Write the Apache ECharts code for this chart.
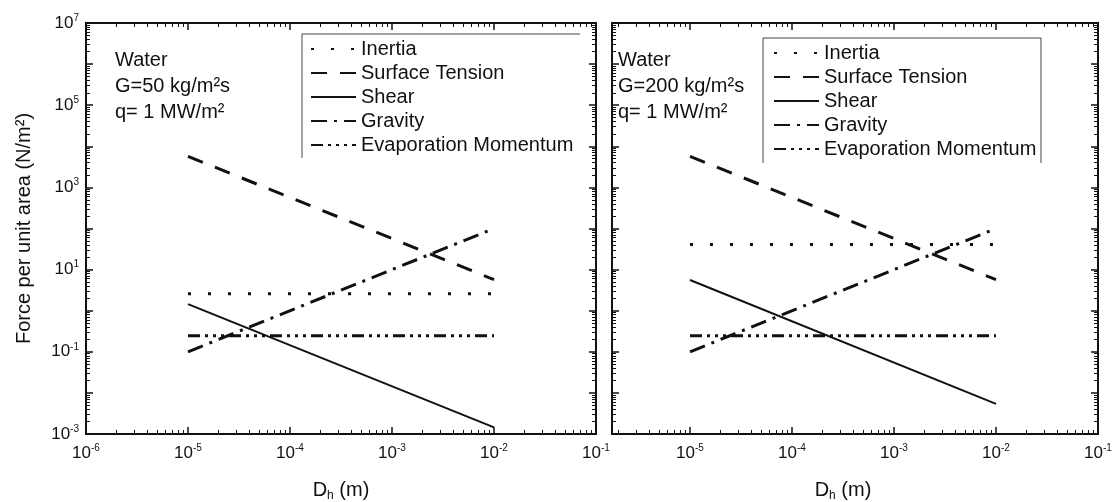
<!DOCTYPE html>
<html>
<head>
<meta charset="utf-8">
<script src="https://cdn.jsdelivr.net/npm/echarts@6/dist/echarts.min.js"></script>
<style>
  html, body { margin: 0; background: #fff; }
  #chart { width: 1113px; height: 502px; }
</style>
</head>
<body>
<div id="chart"></div>
<script>
// ========== 数据 ==========
const dh = [1e-5, 1e-2];                 // D_h (m), both ends of every line
const inertiaG50 = [2.6, 2.6];
const inertiaG200 = [41, 41];
const surfaceTension = [5700, 5.7];
const shearG50 = [1.45, 0.00145];
const shearG200 = [5.6, 0.0054];
const gravity = [0.1, 100];
const evapMomentum = [0.245, 0.245];
const seriesNames = ['Inertia', 'Surface Tension', 'Shear', 'Gravity', 'Evaporation Momentum'];
const xDecades = [-6, -5, -4, -3, -2, -1];        // exponents of the x tick labels
const yDecades = [-3, -2, -1, 0, 1, 2, 3, 4, 5, 6, 7];
const yLabelDecades = [-3, -1, 1, 3, 5, 7];

const FONT = '"Liberation Sans", Arial, sans-serif';
const INK = '#111';

// line styles per force
const lineStyles = {
  'Inertia': { type: [3, 17], width: 3 },
  'Surface Tension': { type: [16, 13], width: 3 },
  'Shear': { type: 'solid', width: 2 },
  'Gravity': { type: [16, 7, 3, 7], width: 3 },
  'Evaporation Momentum': { type: [12, 5, 3, 5, 3, 5, 3, 5], width: 3 }
};

// two panels; the right one is cropped on its left side in the original
const panels = [
  { G: '50', grid: { left: 86, top: 23, width: 510, height: 411 }, xLogMin: -6, yLabels: true,
    values: [inertiaG50, surfaceTension, shearG50, gravity, evapMomentum],
    legendLeft: 310, legendTop: 37, textX: 115, namePad: [0, 0, 0, 0] },
  { G: '200', grid: { left: 612, top: 23, width: 486, height: 411 }, xLogMin: -5.765, yLabels: false,
    values: [inertiaG200, surfaceTension, shearG200, gravity, evapMomentum],
    legendLeft: 773, legendTop: 41, textX: 618, namePad: [0, 24, 0, 0] }
];

// ========== 刻度 ==========
function minorTicks(lo, hi) {
  const out = [];
  for (let e = Math.floor(lo); e < hi; e++) {
    for (let k = 2; k <= 9; k++) {
      const v = e + Math.log10(k);
      if (v > lo && v < hi) out.push(v);
    }
  }
  return out;
}

const labelRich = {
  a: { fontSize: 17, fontFamily: FONT, color: INK, lineHeight: 20 },
  b: { fontSize: 10, fontFamily: FONT, color: INK, lineHeight: 11, verticalAlign: 'top' }
};
const powLabel = v => '{a|10}{b|' + Math.round(v) + '}';
const boxLine = { show: true, onZero: false, lineStyle: { color: INK, width: 2 } };
const noLine = { show: false, onZero: false };

// a value axis in log10 space that only draws ticks (and labels) on one side of the box
function tickAxis(gi, pos, min, max, values, len, labels, line) {
  return {
    type: 'value', gridIndex: gi, position: pos, min, max,
    axisLine: line ? boxLine : noLine, splitLine: { show: false },
    axisTick: { show: true, inside: true, length: len, customValues: values,
      lineStyle: { color: INK, width: len > 5 ? 1.5 : 1 } },
    axisLabel: labels
      ? { show: true, customValues: labels, margin: pos === 'left' ? 7 : 9, formatter: powLabel, rich: labelRich }
      : { show: false }
  };
}

const xAxes = [], yAxes = [], grids = [], series = [], legends = [], graphics = [];

panels.forEach((p, gi) => {
  grids.push(Object.assign({ outerBoundsMode: 'none' }, p.grid));
  const xi = xAxes.length, yi = yAxes.length;
  const xMajor = xDecades.filter(e => e >= p.xLogMin);

  // the data axes (log scale)
  xAxes.push({
    type: 'log', gridIndex: gi, position: 'bottom', min: Math.pow(10, p.xLogMin), max: 0.1,
    axisLine: boxLine, axisTick: { show: false }, axisLabel: { show: false }, splitLine: { show: false },
    name: '{a|D}{s|h}{a| (m)}', nameLocation: 'middle', nameGap: 44,
    nameTextStyle: { padding: p.namePad, rich: {
      a: { fontSize: 20, fontFamily: FONT, color: INK, lineHeight: 24 },
      s: { fontSize: 12, fontFamily: FONT, color: INK, lineHeight: 10, verticalAlign: 'bottom' } } }
  });
  yAxes.push({
    type: 'log', gridIndex: gi, position: 'left', min: 1e-3, max: 1e7,
    axisLine: boxLine, axisTick: { show: false }, axisLabel: { show: false }, splitLine: { show: false },
    name: p.yLabels ? 'Force per unit area (N/m²)' : '', nameLocation: 'middle', nameGap: 52, nameRotate: 90,
    nameTextStyle: { fontSize: 20, fontFamily: FONT, color: INK }
  });

  // ticks on all four sides
  xAxes.push(tickAxis(gi, 'bottom', p.xLogMin, -1, xMajor, 7, xMajor, false));
  xAxes.push(tickAxis(gi, 'bottom', p.xLogMin, -1, minorTicks(p.xLogMin, -1), 4, null, false));
  xAxes.push(tickAxis(gi, 'top', p.xLogMin, -1, xMajor, 7, null, true));
  xAxes.push(tickAxis(gi, 'top', p.xLogMin, -1, minorTicks(p.xLogMin, -1), 4, null, false));
  yAxes.push(tickAxis(gi, 'left', -3, 7, yDecades, 7, p.yLabels ? yLabelDecades : null, false));
  yAxes.push(tickAxis(gi, 'left', -3, 7, minorTicks(-3, 7), 4, null, false));
  yAxes.push(tickAxis(gi, 'right', -3, 7, yDecades, 7, null, true));
  yAxes.push(tickAxis(gi, 'right', -3, 7, minorTicks(-3, 7), 4, null, false));

  seriesNames.forEach((name, k) => {
    series.push({
      name, type: 'line', xAxisIndex: xi, yAxisIndex: yi,
      data: dh.map((x, i) => [x, p.values[k][i]]),
      symbol: 'none', silent: true, animation: false,
      itemStyle: { color: INK },
      lineStyle: Object.assign({ color: INK, cap: 'butt' }, lineStyles[name])
    });
  });

  legends.push({
    data: seriesNames, orient: 'vertical', left: p.legendLeft, top: p.legendTop,
    itemWidth: 45, itemHeight: 10, itemGap: 0, selectedMode: false, padding: 0,
    itemStyle: { opacity: 0, borderWidth: 0 },
    textStyle: { fontSize: 20, fontFamily: FONT, color: INK, lineHeight: 24 }
  });

  // 标注
  ['Water', 'G=' + p.G + ' kg/m²s', 'q= 1 MW/m²'].forEach((t, r) => graphics.push({
    type: 'text', x: p.textX, y: 60 + r * 26,
    style: { text: t, fill: INK, font: '20px ' + FONT, verticalAlign: 'middle' }
  }));
});

// legend frames (open at the bottom, as in the figure)
graphics.push({ type: 'polyline', shape: { points: [[302, 158], [302, 34], [580, 34]] },
  style: { stroke: '#444', lineWidth: 1, fill: null } });
graphics.push({ type: 'polyline', shape: { points: [[763, 163], [763, 38], [1041, 38], [1041, 163]] },
  style: { stroke: '#444', lineWidth: 1, fill: null } });

const chart = echarts.init(document.getElementById('chart'), null, { renderer: 'canvas' });
chart.setOption({
  backgroundColor: '#fff',
  animation: false,
  grid: grids,
  xAxis: xAxes,
  yAxis: yAxes,
  legend: legends,
  series,
  graphic: graphics
});
</script>
</body>
</html>
